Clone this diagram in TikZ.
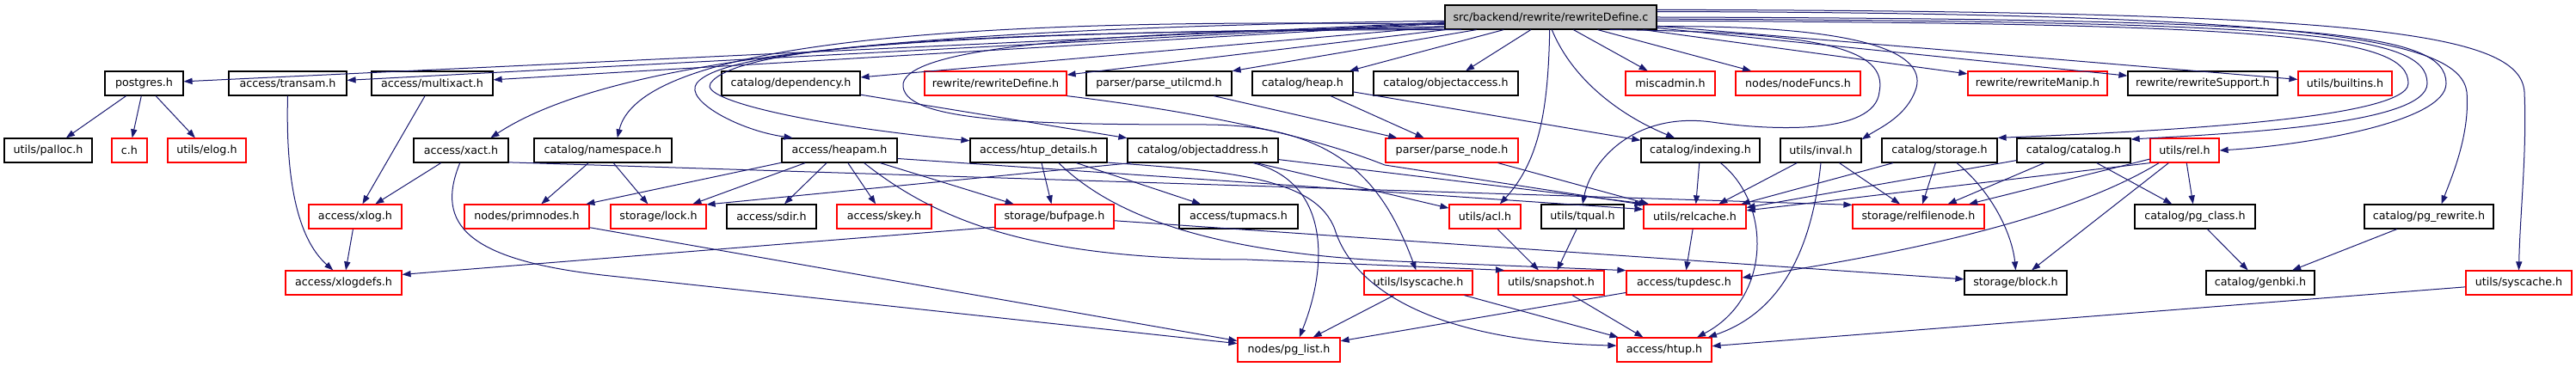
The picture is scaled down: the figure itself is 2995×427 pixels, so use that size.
\documentclass[tikz,border=0pt]{standalone}
\usepackage{fontspec}
\setmainfont{DejaVu Sans}
\usetikzlibrary{arrows.meta}
\definecolor{edgeBlue}{HTML}{191970}
\definecolor{truncRed}{HTML}{FF0000}
\definecolor{rootGray}{HTML}{BFBFBF}
\begin{document}
\begin{tikzpicture}
[x=0.5pt,y=0.5pt,%
  boxDecorate/.style={shape=rectangle,inner sep=0pt,minimum height=14pt,line width=0.6pt,fill=white,font=\fontsize{6.35pt}{7.5pt}\selectfont},%
  blackBox/.style={boxDecorate,draw=black},%
  redBox/.style={boxDecorate,draw=truncRed},%
  rootBox/.style={boxDecorate,draw=black,fill=rootGray},%
  lineDecorate/.style={-{Triangle[length=5pt,width=3.6pt]},draw=edgeBlue,line width=0.5pt}]
\useasboundingbox (0,0) rectangle (2995,427);
%% the file itself
\node (root) at (1803,407) [rootBox,minimum width=123pt] {src/backend/rewrite/rewriteDefine.c};
%% headers shown in full
\foreach \nodename/\x/\y/\w/\txt in {
  postgres/167.5/330/91/{postgres.h}, transam/334.5/330/137/{access/transam.h},
  multixact/502.5/330/141/{access/multixact.h}, dependency/919.5/330/161/{catalog/dependency.h},
  parseutilcmd/1347.5/330/169/{parser/parse\_utilcmd.h}, heap/1514.5/330/117/{catalog/heap.h},
  objectaccess/1681/330/168/{catalog/objectaccess.h}, rewriteSupport/2561/330/174/{rewrite/rewriteSupport.h},
  palloc/56/252/102/{utils/palloc.h}, xact/536/252/110/{access/xact.h},
  namespace/701/252/160/{catalog/namespace.h}, heapam/976/252/134/{access/heapam.h},
  htupdetails/1207.5/252/159/{access/htup\_details.h}, objectaddress/1398.5/252/175/{catalog/objectaddress.h},
  indexing/1977/252/138/{catalog/indexing.h}, inval/2117/252/94/{utils/inval.h},
  catstorage/2255/252/134/{catalog/storage.h}, catalog/2411/252/132/{catalog/catalog.h},
  sdir/897/175/104/{access/sdir.h}, tupmacs/1440/175/138/{access/tupmacs.h},
  tqual/1840/175/96/{utils/tqual.h}, pgclass/2552/175/140/{catalog/pg\_class.h},
  pgrewrite/2824/175/150/{catalog/pg\_rewrite.h}, block/2343.5/98/119/{storage/block.h},
  genbki/2628/98/126/{catalog/genbki.h}}
{
  \node (\nodename) at (\x,\y) [blackBox,minimum width=\w*0.5pt] {\txt};
}
%% truncated headers
\foreach \nodename/\x/\y/\w/\txt in {
  ch/150.5/252/41/{c.h}, elog/240.5/252/91/{utils/elog.h},
  rewriteDefineh/1157.5/330/165/{rewrite/rewriteDefine.h}, miscadmin/1942/330/104/{miscadmin.h},
  nodeFuncs/2090.5/330/145/{nodes/nodeFuncs.h}, rewriteManip/2369/330/162/{rewrite/rewriteManip.h},
  builtins/2726.5/330/109/{utils/builtins.h}, parsenode/1688/252/154/{parser/parse\_node.h},
  rel/2540/252/80/{utils/rel.h}, xlog/413/175/108/{access/xlog.h},
  primnodes/612.5/175/145/{nodes/primnodes.h}, lock/765.5/175/111/{storage/lock.h},
  skey/1028/175/110/{access/skey.h}, bufpage/1226/175/138/{storage/bufpage.h},
  acl/1726.5/175/83/{utils/acl.h}, relcache/1970.5/175/119/{utils/relcache.h},
  relfilenode/2230.5/175/153/{storage/relfilenode.h}, xlogdefs/399.5/98/135/{access/xlogdefs.h},
  lsyscache/1649/98/126/{utils/lsyscache.h}, snapshot/1803.5/98/123/{utils/snapshot.h},
  tupdesc/1958/98/134/{access/tupdesc.h}, syscache/2928.5/98/123/{utils/syscache.h},
  pglist/1498.5/20/119/{nodes/pg\_list.h}, htup/1935/20/110/{access/htup.h}}
{
  \node (\nodename) at (\x,\y) [redBox,minimum width=\w*0.5pt] {\txt};
}
%% straight includes
\path
\foreach \startnode/\endnode in {
  root/postgres, root/transam, root/multixact, root/dependency, root/rewriteDefineh,
  root/parseutilcmd, root/heap, root/objectaccess, root/miscadmin, root/nodeFuncs,
  root/rewriteManip, root/rewriteSupport, root/builtins,
  postgres/palloc, postgres/ch, postgres/elog,
  multixact/xlog, xact/xlog, xact.-14/relfilenode.170, xlog/xlogdefs,
  namespace/primnodes, namespace/lock, primnodes/pglist,
  heapam/primnodes, heapam/lock, heapam/sdir, heapam/skey, heapam/bufpage, heapam.-8/relcache.172,
  htupdetails/bufpage, htupdetails/tupmacs,
  objectaddress.-170/lock.14, objectaddress/acl, objectaddress/relcache.165,
  dependency/objectaddress, parseutilcmd/parsenode,
  heap/parsenode, heap/indexing, parsenode/relcache, indexing/relcache,
  inval/relcache, inval/relfilenode, tqual/snapshot, acl/snapshot, relcache/tupdesc,
  lsyscache/pglist, lsyscache/htup, snapshot/htup, tupdesc/pglist,
  bufpage.-170/xlogdefs.8, bufpage/block,
  catstorage/relfilenode, catstorage/relcache,
  catalog/relcache, catalog/relfilenode, catalog/pgclass,
  rel.-160/relcache, rel/relfilenode, rel/block, rel/pgclass,
  pgclass/genbki, pgrewrite/genbki, syscache/htup}
{
  (\startnode) edge[lineDecorate] (\endnode)
};
%% curved includes, left of the file
\draw[lineDecorate] (root.182) .. controls (1100,395) and (720,365) .. (xact.23);
\draw[lineDecorate] (root.184) .. controls (1000,410) and (740,360) .. (namespace.41);
\draw[lineDecorate] (root.186) .. controls (1100,390) and (840,370) .. (810,330)
  .. controls (795,310) and (860,275) .. (heapam.165);
\draw[lineDecorate] (root.188) .. controls (1100,392) and (855,372) .. (826,330)
  .. controls (812,310) and (950,280) .. (htupdetails.172);
\draw[lineDecorate] (root.185) .. controls (1300,390) and (1060,375) .. (1050,330)
  .. controls (1045,285) and (1200,282) .. (1400,282)
  .. controls (1560,282) and (1610,210) .. (lsyscache.100);
\draw[lineDecorate] (root.-95) .. controls (1800,300) and (1790,240) .. (acl.40);
\draw[lineDecorate] (root.-85) .. controls (1830,330) and (1890,290) .. (indexing.154);
%% curved includes, right of the file
\draw[lineDecorate] (root.-12) .. controls (2120,390) and (2195,370) .. (2185,320)
  .. controls (2180,270) and (2060,275) .. (1990,285)
  .. controls (1900,297) and (1850,240) .. (tqual.north);
\draw[lineDecorate] (root.-5) .. controls (2150,398) and (2240,370) .. (2228,325)
  .. controls (2218,292) and (2185,278) .. (inval.15);
\draw[lineDecorate] (root.-2) .. controls (2650,400) and (2800,385) .. (2800,330)
  .. controls (2800,285) and (2450,272) .. (catstorage.north east);
\draw[lineDecorate] (root.-1) .. controls (2680,402) and (2822,388) .. (2822,330)
  .. controls (2822,282) and (2600,272) .. (catalog.11);
\draw[lineDecorate] (root.0) .. controls (2700,405) and (2844,390) .. (2844,330)
  .. controls (2844,285) and (2680,258) .. (rel.east);
\draw[lineDecorate] (root.3) .. controls (2700,412) and (2860,380) .. (2868,320)
  .. controls (2872,270) and (2850,220) .. (pgrewrite.45);
\draw[lineDecorate] (root.4) .. controls (2750,414) and (2930,390) .. (2935,320)
  .. controls (2938,250) and (2930,180) .. (syscache.north);
%% curved includes between headers
\draw[lineDecorate] (transam.south) .. controls (332,220) and (345,150) .. (xlogdefs.130);
\draw[lineDecorate] (xact.265) .. controls (505,165) and (545,125) .. (700,107) -- (pglist.173);
\draw[lineDecorate] (heapam.-27) .. controls (1090,170) and (1200,125) .. (1450,125) -- (snapshot.165);
\draw[lineDecorate] (htupdetails.-32) .. controls (1290,180) and (1400,130) .. (1650,122) -- (tupdesc.168);
\draw[lineDecorate] (htupdetails.-10) .. controls (1430,228) and (1530,220) .. (1552,160)
  .. controls (1572,95) and (1660,30) .. (htup.175);
\draw[lineDecorate] (objectaddress.-14) .. controls (1545,215) and (1545,120) .. (pglist.50);
\draw[lineDecorate] (rewriteDefineh.-10) .. controls (1450,290) and (1560,255) .. (1610,235) -- (relcache.167);
\draw[lineDecorate] (indexing.-32) .. controls (2060,190) and (2060,80) .. (htup.21);
\draw[lineDecorate] (inval.south) .. controls (2105,120) and (2060,60) .. (htup.16);
\draw[lineDecorate] (catstorage.-36) .. controls (2320,200) and (2340,150) .. (block.north);
\draw[lineDecorate] (rel.-154) .. controls (2400,170) and (2200,130) .. (tupdesc.5);
\end{tikzpicture}
\end{document}
